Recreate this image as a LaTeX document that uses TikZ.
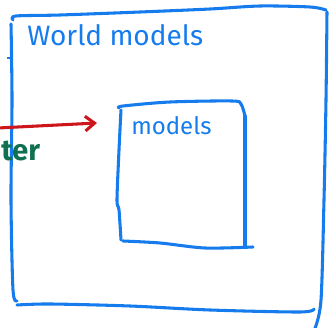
\documentclass[tikz,border=0pt]{standalone}
\usepackage{fontspec}
\setmainfont{Fira Sans}
\usetikzlibrary{arrows.meta,positioning}
\definecolor{penblue}{RGB}{22,124,238}
\definecolor{penred}{RGB}{205,22,28}
\definecolor{pengreen}{RGB}{18,112,82}

\begin{document}
\begin{tikzpicture}[>=Latex,x=0.75pt,y=-0.75pt,
  ink/.style={line width=2.3pt,line cap=round,line join=round},
  scrawl/.style={font=\fontsize{18}{18}\selectfont,inner sep=0pt,anchor=west}]
\useasboundingbox (0,0) rectangle (330,328);
\clip (0,0) rectangle (330,328);
% outer frame
\draw[ink,penblue] plot[smooth] coordinates {(13,20) (16,16) (60,15) (140,12) (210,9) (260,6) (310,7) (326,10)};
\draw[ink,penblue] plot[smooth] coordinates {(11,24) (12,100) (11,200) (13,290) (17,301)};
\draw[ink,penblue] plot[smooth] coordinates {(327,12) (326,100) (324,200) (321,300) (315,328)};
\draw[ink,penblue] plot[smooth] coordinates {(17,305) (50,304) (130,306) (210,310) (300,312) (314,309)};
\draw[penblue,line width=1pt] (7,58) -- (12,58);
\node[scrawl,penblue,font=\fontsize{21}{21}\selectfont] (world) at (27,35) {World models};
% inner frame
\draw[ink,penblue] plot[smooth] coordinates {(119,108) (123,106) (170,102) (232,101) (241,104) (245,116)};
\draw[ink,penblue] (245,116) -- (245,246);
\draw[ink,penblue] plot[smooth] coordinates {(121,110) (119,150) (117,200) (119,210) (121,240)};
\draw[ink,penblue] plot[smooth] coordinates {(123,241) (160,243) (205,248) (253,247)};
\node[scrawl,penblue] (inner) at (131,126) {models};
% arrow in from the left
\coordinate (tail) at (-2,128);
\coordinate (head) at (97,123);
\draw[ink,penred,-{Straight Barb[length=7pt,width=11pt]}] (tail) -- (head);
\node[scrawl,pengreen,font=\bfseries\fontsize{22}{22}\selectfont] (feed) at (1,151) {ter};
\end{tikzpicture}
\end{document}
